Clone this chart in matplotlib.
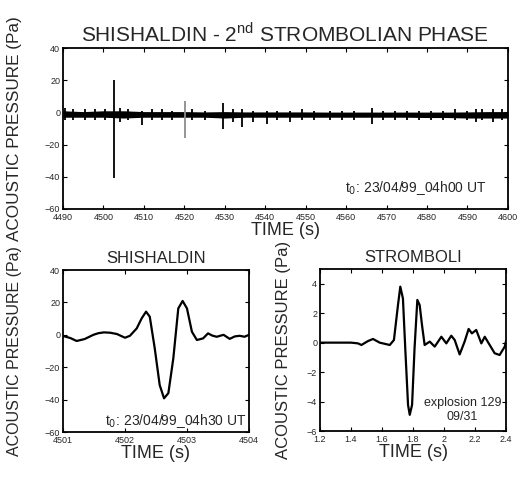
import matplotlib
matplotlib.use("Agg")
import matplotlib.pyplot as plt
import numpy as np

plt.rcParams['font.family'] = ['Liberation Sans', 'DejaVu Sans']

# ---------------- data ----------------
# Top panel: background noise envelope (Pa) and discrete transients
band_t = [4490, 4495, 4500, 4505, 4510, 4515, 4520, 4525, 4530, 4535, 4540, 4545,
          4550, 4555, 4560, 4565, 4570, 4575, 4580, 4585, 4590, 4595, 4600]
band_hi = [1.0, 0.5, 1.0, 1.0, 0.5, 0.5, 0.5, 0.3, 0.5, 0.3, 0.3, 0.3,
           0.3, 0.2, 0.2, 0.2, 0.2, 0.2, 0.2, 0.2, 0.3, 0.5, 0.5]
band_lo = [-3.0, -3.0, -3.0, -3.5, -3.0, -3.0, -3.0, -3.0, -3.5, -3.0, -3.0, -3.0,
           -3.0, -3.0, -3.0, -3.0, -3.0, -3.0, -3.2, -3.2, -3.5, -3.5, -3.5]

spike_t = [4490.5, 4492.5, 4495.5, 4498.0, 4500.5, 4502.7, 4504.0, 4506.0, 4509.5,
           4512.0, 4514.5, 4517.0, 4522.0, 4525.0, 4529.6, 4532.0,
           4534.2, 4537.0, 4540.4, 4543.0, 4546.0, 4549.0, 4552.0, 4556.0, 4559.0,
           4562.0, 4566.3, 4569.0, 4572.0, 4575.0, 4578.0, 4581.0, 4584.0, 4587.0,
           4590.0, 4592.0, 4593.5, 4596.3, 4598.5]
spike_hi = [3, 2, 2, 2, 2, 20, 3, 2, 1, 2, 2, 1, 2, 1, 6, 2,
            2, 1, 1, 1, 1, 2, 1, 1, 1, 1, 3, 1, 1, 1, 1, 1, 1, 2,
            1, 2, 2, 2, 2]
spike_lo = [-5, -5, -5, -5, -5, -41, -6, -5, -8, -5, -5, -5, -5, -5, -10, -6,
            -9, -6, -7, -5, -6, -5, -5, -5, -5, -5, -7, -5, -5, -5, -5, -5, -5, -5,
            -5, -6, -5, -6, -5]
# grey transient near 4520 s
grey_t = [4520.2]
grey_hi = [7]
grey_lo = [-16]

# Bottom-left: Shishaldin waveform
sh_t = [4501.00, 4501.03, 4501.12, 4501.22, 4501.35, 4501.49, 4501.57, 4501.66, 4501.76,
        4501.87, 4502.00, 4502.08, 4502.19, 4502.27, 4502.34, 4502.40, 4502.48,
        4502.56, 4502.63, 4502.70, 4502.78, 4502.86, 4502.93, 4503.00, 4503.08,
        4503.16, 4503.26, 4503.34, 4503.41, 4503.48, 4503.59, 4503.69, 4503.77,
        4503.85, 4503.93, 4504.00]
sh_p = [-1.0, -1.0, -2.0, -3.8, -2.6, 0.0, 1.0, 1.5, 1.3,
        0.5, -1.8, -0.6, 4.0, 10.2, 14.3, 11.2, -8.3,
        -31.0, -39.2, -36.0, -14.5, 16.3, 20.9, 16.3, 1.9,
        -3.2, -2.2, 0.9, -0.5, -1.2, 0.0, -2.5, -1.0,
        -0.6, -1.2, 0.0]

# Bottom-right: Stromboli waveform
st_t = [1.20, 1.30, 1.40, 1.445, 1.467, 1.51, 1.542, 1.585, 1.65, 1.677, 1.703,
        1.718, 1.735, 1.75, 1.768, 1.779, 1.794, 1.81, 1.828, 1.843, 1.858,
        1.875, 1.908, 1.94, 1.983, 2.015, 2.047, 2.069, 2.101, 2.133, 2.159,
        2.18, 2.208, 2.241, 2.263, 2.295, 2.327, 2.359, 2.392, 2.40]
st_p = [0.0, 0.0, 0.0, -0.05, -0.16, 0.11, 0.25, 0.0, -0.16, 0.18, 2.55,
        3.8, 3.0, -0.38, -4.23, -4.9, -4.23, -0.38, 2.9, 2.55, 1.2,
        -0.16, 0.07, -0.27, 0.4, -0.05, 0.47, 0.18, -0.8, 0.07, 0.93,
        0.63, 0.86, -0.05, 0.4, -0.16, -0.72, -0.84, -0.27, 0.1]

top_xticks = list(range(4490, 4601, 10))
top_yticks = [-60, -40, -20, 0, 20, 40]
sh_xticks = [4501, 4502, 4503, 4504]
sh_yticks = [-60, -40, -20, 0, 20, 40]
st_xticks = [1.2, 1.4, 1.6, 1.8, 2.0, 2.2, 2.4]
st_xticklabels = ['1.2', '1.4', '1.6', '1.8', '2', '2.2', '2.4']
st_yticks = [-6, -4, -2, 0, 2, 4]

# ---------------- figure ----------------
fig = plt.figure(figsize=(5.18, 4.84), dpi=100)
ax1 = fig.add_axes([0.1216, 0.5682, 0.859, 0.3326])
ax2 = fig.add_axes([0.1216, 0.1074, 0.359, 0.3347])
ax3 = fig.add_axes([0.6178, 0.1095, 0.359, 0.3347])

tick_fs = 6.5
txt_col = '0.15'

def style(ax):
    for s in ax.spines.values():
        s.set_linewidth(1.3)
    ax.tick_params(direction='in', length=3, width=0.8, top=True, right=True,
                   labelsize=tick_fs, labelcolor=txt_col)
    ax.tick_params(axis='x', pad=3)
    ax.tick_params(axis='y', pad=2)

# top panel
ax1.fill_between(band_t, band_lo, band_hi, color='black', linewidth=0)
ax1.vlines(spike_t, spike_lo, spike_hi, color='black', linewidth=1.3)
ax1.vlines(grey_t, grey_lo, grey_hi, color='0.55', linewidth=1.3)
ax1.set_xlim(4490, 4600)
ax1.set_ylim(-60, 40)
ax1.set_xticks(top_xticks)
ax1.set_yticks(top_yticks)
style(ax1)
ax1.set_xlabel('TIME (s)', fontsize=13, labelpad=0, color=txt_col)
ax1.set_ylabel('ACOUSTIC PRESSURE (Pa)', fontsize=12.3, color=txt_col)
ax1.yaxis.set_label_coords(-0.092, 0.5)
ax1.set_title(r'SHISHALDIN - 2$^{\mathregular{nd}}$ STROMBOLIAN PHASE', fontsize=15,
              pad=5, color=txt_col)
ax1.text(0.953, 0.13, r't$_0$: 23/04/99_04h00 UT', transform=ax1.transAxes,
         ha='right', va='center', fontsize=10, color=txt_col)

# bottom-left panel
ax2.plot(sh_t, sh_p, color='black', linewidth=1.6)
ax2.set_xlim(4501, 4504)
ax2.set_ylim(-60, 40)
ax2.set_xticks(sh_xticks)
ax2.set_yticks(sh_yticks)
style(ax2)
ax2.set_xlabel('TIME (s)', fontsize=13, labelpad=0, color=txt_col)
ax2.set_ylabel('ACOUSTIC PRESSURE (Pa)', fontsize=11.5, color=txt_col)
ax2.yaxis.set_label_coords(-0.22, 0.5)
ax2.set_title('SHISHALDIN', fontsize=12, pad=5, color=txt_col)
ax2.text(0.99, 0.068, r't$_0$: 23/04/99_04h30 UT', transform=ax2.transAxes,
         ha='right', va='center', fontsize=10, color=txt_col)

# bottom-right panel
ax3.plot(st_t, st_p, color='black', linewidth=1.6)
ax3.set_xlim(1.2, 2.4)
ax3.set_ylim(-6, 5)
ax3.set_xticks(st_xticks)
ax3.set_xticklabels(st_xticklabels)
ax3.set_yticks(st_yticks)
style(ax3)
ax3.set_xlabel('TIME (s)', fontsize=13, labelpad=0, color=txt_col)
ax3.set_ylabel('ACOUSTIC PRESSURE (Pa)', fontsize=12, color=txt_col)
ax3.yaxis.set_label_coords(-0.156, 0.5)
ax3.set_title('STROMBOLI', fontsize=12, pad=5, color=txt_col)
ax3.text(0.765, 0.13, 'explosion 129\n09/31', transform=ax3.transAxes,
         ha='center', va='center', fontsize=9, linespacing=1.15, color=txt_col)

fig.savefig('out.png', dpi=100)
